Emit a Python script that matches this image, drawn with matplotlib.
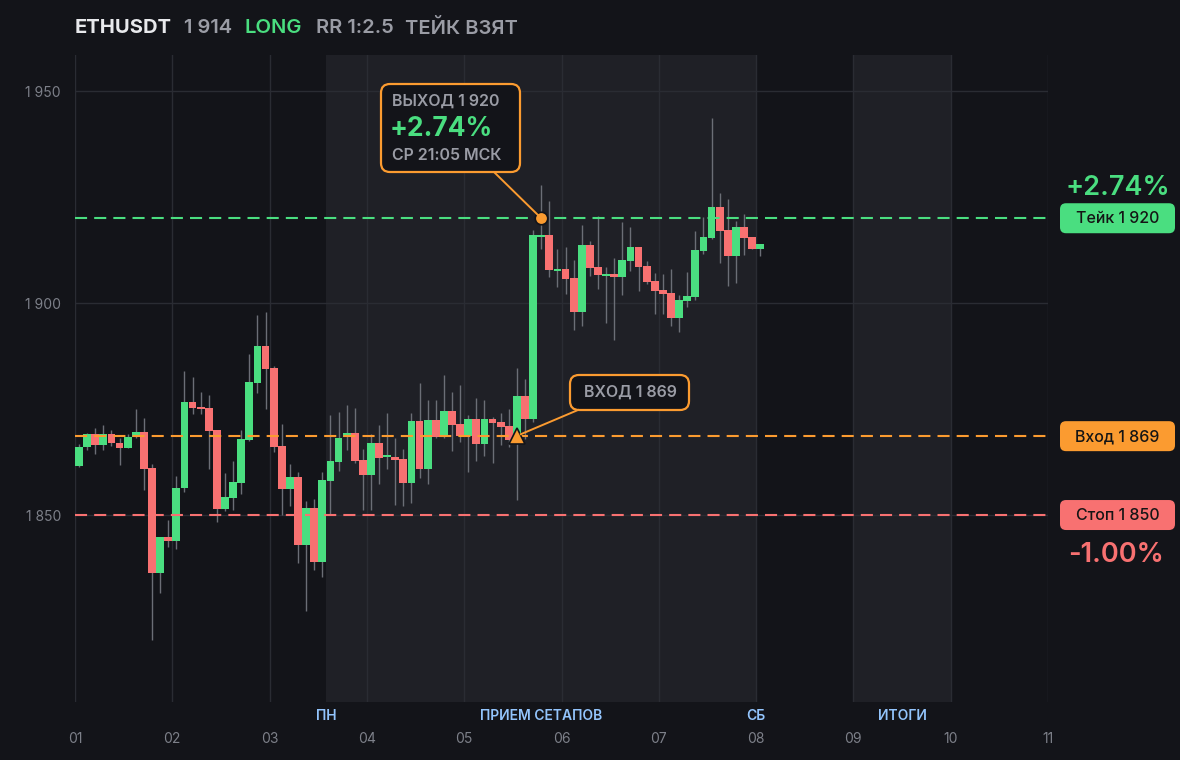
import matplotlib
matplotlib.use('Agg')
import matplotlib.pyplot as plt
import numpy as np
from matplotlib.patches import FancyBboxPatch
from matplotlib.lines import Line2D
from matplotlib.transforms import Affine2D

plt.rcParams['font.family'] = ['Inter', 'DejaVu Sans']

# colours
BG = '#131419'
SHADE = '#1f2026'
GRID = '#2a2c33'
GREEN = '#4ade80'
RED = '#f87171'
ORANGE = '#fb9b30'
GRAY = '#9a9ca5'
TICK = '#7d8089'
BLUE = '#93c5fd'
WICK = '#6b6e76'

# candles (12 per day)
opens = [1861.6, 1866.0, 1869.1, 1866.5, 1869.1, 1867.0, 1865.8, 1868.4, 1869.6, 1861.1,
         1836.3, 1844.8, 1843.9, 1856.4, 1876.7, 1875.5, 1875.2, 1870.0, 1851.4, 1854.0,
         1857.5, 1867.7, 1881.1, 1889.9, 1884.7, 1866.3, 1856.1, 1859.0, 1842.9, 1851.7,
         1838.9, 1858.0, 1862.5, 1868.4, 1869.3, 1863.0, 1859.4, 1867.0, 1863.6, 1863.7,
         1863.2, 1857.5, 1872.2, 1860.8, 1872.4, 1868.6, 1874.5, 1871.5, 1868.6, 1872.6,
         1866.7, 1872.6, 1871.9, 1871.0, 1867.7, 1878.1, 1872.6, 1915.6, 1916.0, 1907.6,
         1908.0, 1905.9, 1897.9, 1913.7, 1908.5, 1906.4, 1906.8, 1906.1, 1909.9, 1913.2,
         1908.7, 1905.2, 1903.1, 1902.4, 1896.5, 1900.5, 1901.4, 1912.3, 1915.3, 1922.6,
         1917.2, 1911.1, 1917.9, 1915.6, 1912.7]
highs = [1866.7, 1869.3, 1870.5, 1871.2, 1870.0, 1868.2, 1869.1, 1875.0, 1872.9, 1862.0,
         1844.8, 1848.8, 1859.2, 1884.0, 1882.5, 1879.0, 1878.3, 1870.0, 1859.9, 1862.7,
         1870.0, 1888.0, 1897.2, 1897.9, 1885.1, 1871.5, 1862.0, 1860.1, 1853.3, 1853.8,
         1860.1, 1873.6, 1874.3, 1875.9, 1875.2, 1865.6, 1869.1, 1871.2, 1874.1, 1868.2,
         1865.6, 1874.1, 1881.1, 1877.1, 1877.1, 1883.0, 1879.0, 1880.7, 1873.6, 1877.6,
         1877.1, 1873.1, 1874.1, 1875.0, 1884.7, 1882.1, 1917.2, 1927.8, 1924.1, 1912.7,
         1913.2, 1910.1, 1918.4, 1914.6, 1920.5, 1908.5, 1910.6, 1919.1, 1917.9, 1913.2,
         1909.9, 1907.1, 1906.8, 1908.0, 1901.9, 1907.3, 1917.0, 1920.3, 1943.6, 1925.9,
         1924.5, 1919.3, 1921.0, 1915.6, 1913.9]
lows = [1861.3, 1865.3, 1864.4, 1865.3, 1866.3, 1861.8, 1865.8, 1868.2, 1855.9, 1820.5,
        1831.6, 1842.5, 1842.0, 1855.4, 1873.8, 1873.8, 1860.8, 1848.3, 1850.9, 1851.2,
        1855.0, 1867.5, 1878.8, 1875.0, 1864.9, 1850.0, 1852.1, 1838.7, 1827.4, 1837.0,
        1835.4, 1850.0, 1860.4, 1865.3, 1862.3, 1851.2, 1851.2, 1857.3, 1860.8, 1852.4,
        1852.1, 1852.8, 1858.7, 1857.3, 1868.2, 1868.2, 1865.1, 1867.2, 1860.1, 1862.7,
        1863.9, 1862.3, 1866.5, 1866.0, 1853.5, 1867.9, 1872.0, 1912.7, 1906.1, 1903.8,
        1902.1, 1893.6, 1894.6, 1906.4, 1903.3, 1895.3, 1891.3, 1901.9, 1907.5, 1902.8,
        1904.5, 1897.4, 1897.4, 1894.6, 1893.2, 1899.1, 1900.7, 1911.6, 1915.0, 1909.4,
        1904.0, 1904.7, 1911.3, 1912.7, 1911.1]
closes = [1866.0, 1869.1, 1866.5, 1869.1, 1867.0, 1865.8, 1868.4, 1869.6, 1860.8, 1836.3,
          1844.8, 1843.9, 1856.4, 1876.7, 1875.2, 1875.0, 1869.8, 1851.4, 1854.2, 1857.8,
          1867.9, 1881.4, 1889.9, 1884.4, 1866.0, 1856.1, 1859.0, 1842.9, 1851.7, 1838.9,
          1858.3, 1862.7, 1868.2, 1869.3, 1862.7, 1859.4, 1867.0, 1863.4, 1864.0, 1863.0,
          1857.5, 1872.2, 1860.8, 1872.4, 1868.4, 1874.5, 1871.2, 1868.6, 1872.6, 1866.7,
          1872.6, 1871.7, 1870.8, 1867.7, 1878.1, 1872.6, 1916.0, 1916.0, 1907.8, 1908.0,
          1905.7, 1897.9, 1913.7, 1908.3, 1906.6, 1906.8, 1906.1, 1910.1, 1913.2, 1908.5,
          1905.0, 1902.8, 1902.1, 1896.5, 1900.7, 1901.7, 1912.5, 1915.6, 1922.6, 1917.0,
          1911.1, 1917.9, 1915.3, 1912.7, 1913.9]

day_ticks = list(range(1, 12))
day_labels = ['01', '02', '03', '04', '05', '06', '07', '08', '09', '10', '11']
price_ticks = [1850, 1900, 1950]
price_labels = ['1 850', '1 900', '1 950']

take_price = 1920
entry_price = 1868.6
stop_price = 1850
entry_idx = 54
exit_idx = 57
setup_zone = (3 + 7 / 12, 8)
summary_zone = (9, 10)
zone_labels = ['ПН', 'ПРИЕМ СЕТАПОВ', 'СБ', 'ИТОГИ']


def fmt(p):
    return f'{round(p):,}'.replace(',', ' ')


W, H = 1180, 760
fig = plt.figure(figsize=(W / 100, H / 100), dpi=100, facecolor=BG)
ax = fig.add_axes([75 / W, 58 / H, 973 / W, 647 / H])
ax.set_facecolor(BG)
ax.set_xlim(1, 11)
ax.set_ylim(1805.9, 1958.5)

# pixel space, origin top-left
pix = Affine2D().scale(1, -1).translate(0, H)


def to_pix(x, y):
    xd, yd = ax.transData.transform((x, y))
    return xd, H - yd


# zones
ax.axvspan(*setup_zone, color=SHADE, lw=0, zorder=0)
ax.axvspan(*summary_zone, color=SHADE, lw=0, zorder=0)

# grid
for d in day_ticks:
    ax.axvline(d, color=GRID, lw=1, zorder=0.5)
for p in price_ticks:
    ax.axhline(p, color=GRID, lw=1, zorder=0.5)

# candles
o = np.array(opens)
c = np.array(closes)
xs = 1 + (np.arange(len(o)) + 0.5) / 12
up = c >= o
cols = np.where(up, GREEN, RED)
ax.vlines(xs, lows, highs, color=WICK, lw=1, zorder=2)
body = np.maximum(np.abs(c - o), 0.45)
ax.bar(xs, body, bottom=np.minimum(o, c), width=0.96 / 12, color=cols, lw=0, zorder=3)

# levels
dash = (0, (5.8, 3.4))
ax.axhline(take_price, color=GREEN, lw=1.5, ls=dash, zorder=4)
ax.axhline(entry_price, color=ORANGE, lw=1.5, ls=dash, zorder=4)
ax.axhline(stop_price, color=RED, lw=1.5, ls=dash, zorder=4)

# axes cosmetics
for s in ax.spines.values():
    s.set_visible(False)
ax.set_xticks(day_ticks)
ax.set_xticklabels(day_labels)
ax.set_yticks(price_ticks)
ax.set_yticklabels(price_labels)
ax.tick_params(axis='x', length=0, pad=21.5, labelsize=10, labelcolor=TICK)
ax.tick_params(axis='y', length=0, pad=10, labelsize=10, labelcolor=TICK)

# zone labels under the axis
xt = ax.get_xaxis_transform()
zone_x = [setup_zone[0], sum(setup_zone) / 2, setup_zone[1], sum(summary_zone) / 2]
for zx, zl in zip(zone_x, zone_labels):
    ax.text(zx, -14 / 647, zl, transform=xt, ha='center', va='center',
            fontsize=10, color=BLUE, fontweight='semibold')

# entry / exit markers
ex, ey = xs[exit_idx], take_price
nx, ny = xs[entry_idx], entry_price
ax.plot(ex, ey, 'o', ms=9, color=ORANGE, mec=BG, mew=1.2, zorder=6)
ax.plot(nx, ny, '^', ms=11, color=ORANGE, mec=BG, mew=1.2, zorder=6)

# exit callout
fig.add_artist(FancyBboxPatch((381, 84), 139, 88, boxstyle='round,pad=0,rounding_size=9',
                              transform=pix, fc=BG, ec=ORANGE, lw=1.6, zorder=5))
epx, epy = to_pix(ex, ey)
fig.add_artist(Line2D([495, epx], [173, epy], transform=pix, color=ORANGE, lw=1.4, zorder=5))
fig.text(392, 101, f'ВЫХОД {fmt(take_price)}', transform=pix,
         ha='left', va='center', fontsize=11.5, color=GRAY, fontweight='semibold', zorder=6)
fig.text(390, 129, '+2.74%', transform=pix, ha='left', va='center', fontsize=19,
         color=GREEN, fontweight='bold', zorder=6)
fig.text(392, 155, 'СР 21:05 МСК', transform=pix, ha='left', va='center', fontsize=11.5,
         color=GRAY, fontweight='semibold', zorder=6)

# entry callout
fig.add_artist(FancyBboxPatch((570, 375), 119, 35, boxstyle='round,pad=0,rounding_size=9',
                              transform=pix, fc=BG, ec=ORANGE, lw=1.6, zorder=5))
npx, npy = to_pix(nx, ny)
fig.add_artist(Line2D([npx + 4, 578], [npy - 2, 410], transform=pix, color=ORANGE, lw=1.4, zorder=5))
fig.text(630, 392.5, f'ВХОД {fmt(entry_price)}', transform=pix, ha='center', va='center',
         fontsize=11.5, color=GRAY, fontweight='semibold', zorder=6)

# right side price tags
tags = [(take_price, f'Тейк {fmt(take_price)}', GREEN),
        (entry_price, f'Вход {fmt(entry_price)}', ORANGE),
        (stop_price, f'Стоп {fmt(stop_price)}', RED)]
for price, label, col in tags:
    _, py = to_pix(1, price)
    fig.add_artist(FancyBboxPatch((1060, py - 15), 115, 30, boxstyle='round,pad=0,rounding_size=6',
                                  transform=pix, fc=col, ec='none', zorder=5))
    fig.text(1117.5, py + 0.5, label, transform=pix, ha='center', va='center', fontsize=11.5,
             color='#151515', fontweight='medium', zorder=6)

_, tpy = to_pix(1, take_price)
_, spy = to_pix(1, stop_price)
fig.text(1117.5, tpy - 30, '+2.74%', transform=pix, ha='center', va='center', fontsize=19.5,
         color=GREEN, fontweight='semibold')
fig.text(1116.5, spy + 40, '-1.00%', transform=pix, ha='center', va='center', fontsize=19.5,
         color=RED, fontweight='semibold')

# title line
title_parts = [(75, 'ETHUSDT', '#e8e9ec', 'bold'), (184, '1 914', GRAY, 'semibold'),
               (245, 'LONG', GREEN, 'semibold'), (316, 'RR 1:2.5', GRAY, 'semibold'),
               (405, 'ТЕЙК ВЗЯТ', GRAY, 'semibold')]
for tx, tt, tc, tw in title_parts:
    fig.text(tx, 28, tt, transform=pix, ha='left', va='center', fontsize=14.5,
             color=tc, fontweight=tw)

fig.savefig('out.png', dpi=100, facecolor=BG)
